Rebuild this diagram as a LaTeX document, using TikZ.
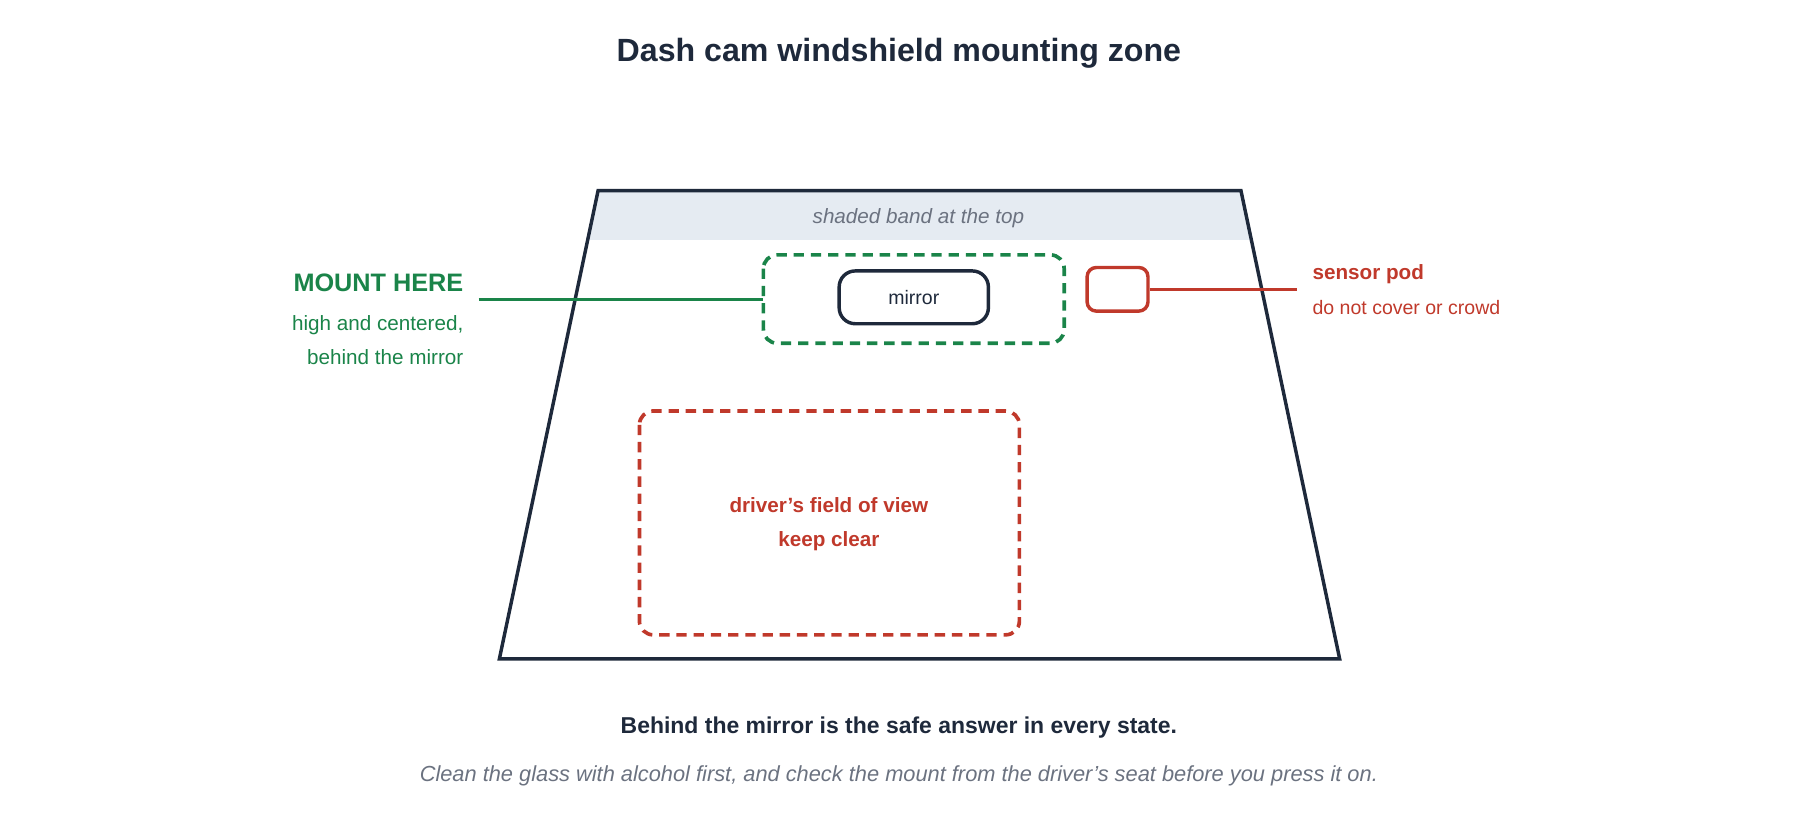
\documentclass[tikz,border=0pt]{standalone}
\usepackage{fontspec}
\setmainfont{Liberation Sans}
\definecolor{ink}{HTML}{1E293B}
\definecolor{grn}{HTML}{1A8449}
\definecolor{rd}{HTML}{C0392B}
\definecolor{band}{HTML}{E5EBF2}
\definecolor{gry}{HTML}{6B7280}
\begin{document}
\begin{tikzpicture}[x=0.5pt,y=-0.5pt,
  zonebox/.style={line width=1.6pt,dash pattern=on 4.5pt off 3pt,rounded corners=6pt},
  lbl/.style={inner sep=0pt}]
\useasboundingbox (0,0) rectangle (1568,714);
\fill[band] (521,166) -- (1081,166) -- (1090,209) -- (512,209) -- cycle;
\draw[ink,line width=1.5pt] (521,166) coordinate (tl) -- (1081,166) -- (1167,574) -- (435,574) -- cycle;
\node[lbl,text=gry,font=\fontsize{9}{11}\selectfont\itshape] (bandt) at (800,190) {shaded band at the top};
\node[lbl] (title) at (783,46) {\fontsize{14}{16}\selectfont\bfseries\color{ink}Dash cam windshield mounting zone};
% mount zone
\draw[grn,zonebox] (665,222) rectangle (927,299);
\coordinate (zoneL) at (665,261);
\node[draw=ink,line width=1.5pt,rounded corners=7pt,minimum width=65pt,minimum height=23pt,font=\fontsize{8.5}{10}\selectfont,text=ink] (mirror) at (796,259) {mirror};
\coordinate (mtL) at (417,261);
\draw[grn,line width=1.3pt] (mtL) -- (zoneL);
\node[lbl,anchor=east,text=grn,font=\fontsize{11}{13}\selectfont\bfseries] (mh) at (404,246) {MOUNT HERE};
\node[lbl,anchor=east,text=grn,font=\fontsize{9}{11}\selectfont] (mh1) at (404,283) {high and centered,};
\node[lbl,anchor=east,text=grn,font=\fontsize{9}{11}\selectfont] (mh2) at (404,311) {behind the mirror};
% sensor pod
\node[draw=rd,line width=1.5pt,rounded corners=4pt,minimum width=26.5pt,minimum height=19pt,inner sep=0pt] (pod) at (973.5,252) {};
\coordinate (podR) at (1130,252);
\draw[rd,line width=1.3pt] (pod.east) -- (podR);
\node[lbl,anchor=west,text=rd,font=\fontsize{9}{11}\selectfont\bfseries] (sp) at (1143,239) {sensor pod};
\node[lbl,anchor=west,text=rd,font=\fontsize{8.5}{10}\selectfont] (sp2) at (1143,268) {do not cover or crowd};
% field of view
\draw[rd,zonebox] (557,358) rectangle (888,553);
\node[lbl,text=rd,font=\fontsize{9}{11}\selectfont\bfseries] (fv1) at (722,440) {driver's field of view};
\node[lbl,text=rd,font=\fontsize{9}{11}\selectfont\bfseries] (fv2) at (722,471) {keep clear};
% bottom
\node[lbl,text=ink,font=\fontsize{10}{12}\selectfont\bfseries] (b1) at (783,634) {Behind the mirror is the safe answer in every state.};
\node[lbl,text=gry,font=\fontsize{9.5}{11}\selectfont\itshape] (b2) at (783,676) {Clean the glass with alcohol first, and check the mount from the driver's seat before you press it on.};
\end{tikzpicture}
\end{document}
